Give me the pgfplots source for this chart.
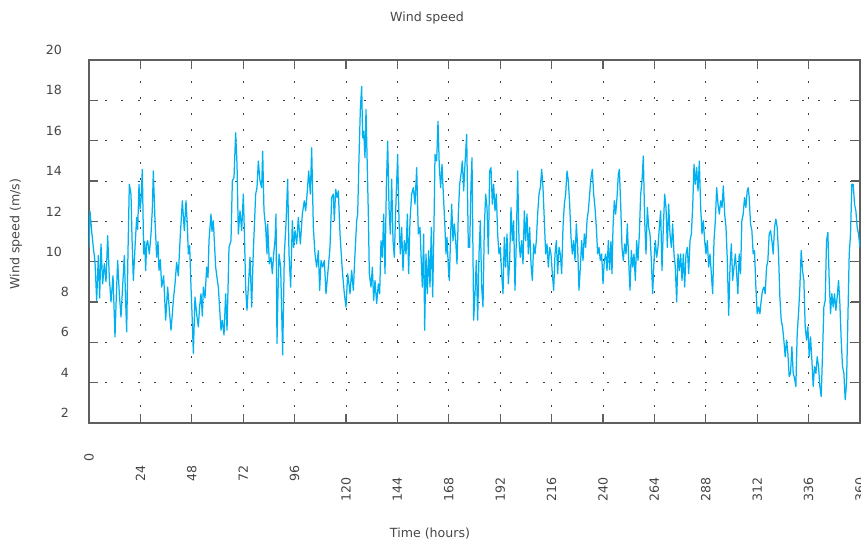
\documentclass[border=0pt]{standalone}
\usepackage{pgfplots}
\pgfplotsset{compat=1.18}
\usepackage{fontspec}
\setmainfont{DejaVu Sans}
\definecolor{wind}{RGB}{0,176,240}
\definecolor{frame}{RGB}{95,95,95}
\definecolor{txt}{RGB}{70,70,70}

\begin{document}
\fontsize{12.6bp}{15bp}\selectfont
\begin{tikzpicture}
\useasboundingbox (0,0) rectangle (861bp,545bp);
\begin{axis}[
  at={(89bp,122bp)}, anchor=south west,
  width=771bp, height=363bp, scale only axis,
  xmin=0, xmax=360, ymin=2, ymax=20,
  xtick={0,24,...,360},
  xticklabels={0,24\hspace*{12bp},48\hspace*{12bp},72\hspace*{12bp},96\hspace*{12bp},
    120\hspace*{24bp},144\hspace*{24bp},168\hspace*{24bp},192\hspace*{24bp},216\hspace*{24bp},
    240\hspace*{24bp},264\hspace*{24bp},288\hspace*{24bp},312\hspace*{24bp},336\hspace*{24bp},360\hspace*{24bp}},
  ytick={2,4,...,20},
  yticklabels={2,4,6,8,10\hspace*{7bp},12\hspace*{7bp},14\hspace*{7bp},16\hspace*{7bp},18\hspace*{7bp},20\hspace*{7bp}},
  xticklabel style={rotate=90, anchor=east, inner sep=0pt, text=txt},
  xticklabel shift=30bp,
  yticklabel style={anchor=east, inner sep=0pt, text=txt, yshift=10bp},
  yticklabel shift=20bp,
  grid=major,
  major grid style={draw=black!75, line width=0.8bp, dash pattern=on 2bp off 14.2bp},
  axis line style={frame, line width=1.1bp},
  major tick style={frame, line width=1.1bp},
  major tick length=9bp,
  tick align=inside,
]
\addplot[wind, line width=1.25bp, line join=round] coordinates {
(0,10.7)(0.47,12.5)(1.25,11.5)(2.02,10.71)(2.8,10.0)(3.58,8.08)(4.36,10.3)(4.98,8.2)(5.6,10.88)(6.38,8.9)(7.16,9.9)(7.94,9.0)(8.72,11.29)(9.49,9.2)(10.27,8.0)(11.21,9.3)(12.14,6.27)(12.76,8.3)(13.39,10.06)(14.16,8.4)(14.94,7.26)(15.72,8.8)(16.5,10.3)(17.12,8.0)(17.59,6.52)(18.21,10.5)(18.83,13.84)(19.61,13.35)(20.08,11.2)(20.7,9.07)(21.48,10.71)(22.26,12.19)(22.72,11.6)(23.35,13.84)(23.81,12.6)(24.28,13.02)(24.9,14.58)(25.53,10.38)(25.99,11.0)(26.46,9.56)(26.93,10.9)(27.39,11.04)(28.17,10.38)(28.95,11.37)(29.57,12.6)(30.04,14.5)(30.82,12.03)(31.6,10.22)(32.22,11.0)(32.68,9.56)(33.31,10.1)(33.93,8.74)(34.86,9.3)(35.8,7.1)(36.73,8.74)(37.51,7.6)(38.29,6.6)(38.91,7.4)(39.38,8.08)(40.16,8.9)(40.93,9.97)(41.71,9.3)(42.49,11.04)(43.58,13.02)(44.51,11.54)(45.29,13.02)(45.91,11.8)(46.38,10.38)(47.0,10.8)(47.63,8.74)(48.25,7.0)(48.72,5.45)(49.49,8.25)(50.27,7.4)(51.05,6.77)(51.67,7.8)(52.3,8.41)(52.92,7.3)(53.39,8.74)(54.16,8.2)(54.94,9.73)(55.56,9.2)(56.03,11.04)(56.96,12.36)(57.43,11.5)(58.05,12.03)(59.14,9.73)(59.77,9.2)(60.39,8.74)
(61.63,6.6)(62.26,7.1)(63.04,6.36)(63.81,8.41)(64.44,6.6)(65.37,10.71)(66.3,11.04)(66.93,14.0)(67.7,14.17)(68.48,16.39)(69.11,14.83)(69.73,11.37)(70.51,12.52)(71.29,11.54)(72.06,13.35)(72.53,11.54)(73.15,8.74)(73.77,7.59)(74.4,8.74)(75.18,10.22)(75.95,7.75)(76.73,10.55)(77.2,11.7)(77.82,13.35)(78.44,13.67)(79.07,14.99)(79.84,14.0)(80.62,13.67)(81.09,15.48)(81.71,12.52)(82.49,11.7)(83.11,10.38)(83.42,11.87)(84.2,9.89)(84.98,10.22)(85.6,9.4)(86.23,10.38)(86.85,11.04)(87.32,12.36)(87.78,5.94)(88.25,8.5)(88.72,10.38)(89.49,9.73)(90.43,5.37)(91.21,10.38)(91.98,11.87)(92.76,14.09)(93.39,10.38)(94.16,8.74)(94.94,12.03)(95.56,10.71)(96.19,11.54)(96.97,10.88)(97.74,12.19)(98.68,10.88)(99.61,12.36)(100.54,13.02)(101.17,12.52)(101.95,13.51)(102.57,14.5)(103.35,13.35)(103.97,15.65)(104.75,11.7)(105.53,10.38)(106.3,9.73)(107.08,10.55)(107.7,8.58)(108.33,10.06)(109.11,9.73)(109.88,10.06)(110.66,8.41)(111.75,9.73)(112.53,10.71)(113.31,13.18)(114.09,13.35)(114.55,12.03)(115.18,13.59)(115.8,13.18)(116.42,13.51)(117.2,11.37)(118.29,9.56)(119.22,8.41)(120.0,7.75)(120.78,9.4)(121.56,8.74)
(121.87,8.41)(122.65,9.56)(123.42,8.58)(124.2,10.38)(124.98,12.03)(125.45,12.36)(126.07,15.15)(126.69,17.54)(127.32,18.69)(127.78,16.14)(128.25,16.47)(128.87,15.15)(129.34,17.54)(129.81,15.32)(130.43,12.36)(130.89,9.4)(131.67,8.74)(132.3,9.73)(132.92,8.08)(133.54,9.07)(134.32,7.92)(135.1,8.9)(135.72,8.41)(136.34,11.04)(136.97,10.22)(137.59,12.36)(138.21,9.4)(138.83,13.67)(139.46,15.98)(140.08,12.69)(140.7,11.37)(141.32,14.09)(141.95,11.04)(142.57,10.22)(143.19,12.52)(144.12,15.32)(144.75,12.03)(145.37,10.38)(145.99,11.7)(146.61,9.56)(147.24,11.04)(148.02,10.38)(148.64,12.36)(149.26,9.4)(149.88,12.03)(150.66,13.35)(151.44,13.67)(152.22,12.85)(153.0,14.66)(153.77,11.37)(154.55,11.7)(155.02,10.38)(155.64,8.74)(156.26,11.37)(156.73,6.6)(157.35,10.38)(157.98,8.41)(158.6,10.55)(159.22,8.74)(159.84,11.7)(160.47,8.25)(161.09,11.87)(161.56,15.32)(162.33,14.99)(162.96,16.96)(163.58,14.66)(164.2,13.67)(164.82,14.83)(165.45,13.35)(166.07,12.03)(166.69,10.38)(167.16,11.21)(167.78,9.73)(168.25,9.07)(168.87,11.37)(169.34,12.85)(169.96,11.04)(170.58,11.87)(171.21,11.04)(171.83,9.89)(172.45,12.36)(173.07,13.84)(173.7,14.33)(174.32,14.99)(174.94,13.51)(175.56,14.83)(176.34,16.31)(177.12,10.71)(177.74,10.71)(178.37,13.84)(178.83,15.15)(179.61,7.1)(180.23,8.41)(180.85,10.06)
(181.48,7.1)(182.1,10.38)(182.72,12.03)(183.35,8.74)(183.97,7.75)(184.59,11.7)(185.21,13.35)(185.84,12.69)(186.46,10.38)(187.08,14.5)(187.7,14.66)(188.33,12.85)(188.95,13.84)(189.57,12.52)(190.19,13.35)(190.82,11.37)(191.44,10.38)(192.06,10.71)(192.68,9.4)(193.31,8.41)(193.93,11.21)(194.55,9.73)(195.18,11.37)(195.8,8.9)(196.42,10.06)(197.04,12.69)(197.67,11.04)(198.29,12.03)(198.91,8.58)(199.53,11.04)(200.16,14.5)(200.78,11.04)(201.4,10.22)(202.02,11.04)(202.65,9.89)(203.27,12.52)(203.89,11.04)(204.51,12.36)(205.14,10.38)(205.76,11.7)(206.38,9.89)(207.0,9.07)(207.63,10.88)(208.25,10.38)(208.87,11.04)(209.49,12.36)(210.12,13.35)(210.74,13.67)(211.36,14.58)(211.98,13.67)(212.61,12.03)(213.23,10.38)(213.85,10.88)(214.47,9.73)(215.1,10.71)(215.72,10.38)(216.34,9.4)(216.96,8.58)(217.59,10.38)(218.21,11.04)(218.83,9.4)(219.46,10.71)(220.08,10.38)(220.7,9.4)(221.32,11.7)(221.95,12.85)(222.57,13.35)(223.19,14.5)(223.81,14.0)(224.44,12.85)(225.06,11.21)(225.68,10.38)(226.3,11.04)(226.93,10.06)(227.55,11.87)(228.17,10.71)(228.79,8.58)(229.42,9.73)(230.04,11.04)(230.66,10.06)(231.28,11.37)(231.91,10.71)(232.53,12.03)(233.15,12.52)(233.77,13.35)(234.4,14.17)(235.02,14.58)(235.64,13.35)(236.26,12.69)(236.89,11.7)(237.51,10.38)(238.13,10.71)(238.75,10.06)(239.38,10.38)(240.0,8.9)(240.62,10.06)(241.25,10.38)(241.87,9.56)(242.49,11.04)
(243.1,9.6)(243.7,11.0)(244.2,9.4)(244.67,11.7)(245.29,13.02)(245.91,12.36)(246.54,13.18)(247.16,14.33)(247.63,14.58)(248.25,12.85)(248.87,10.71)(249.49,10.06)(250.12,10.88)(250.74,10.38)(251.36,11.87)(251.98,10.06)(252.61,8.58)(253.23,10.55)(253.85,9.73)(254.47,10.38)(255.1,9.07)(255.72,11.04)(256.34,10.06)(256.97,11.37)(257.59,13.35)(258.21,14.0)(258.83,15.24)(259.46,12.03)(260.08,10.38)(260.7,12.69)(261.32,11.7)(261.95,11.37)(262.57,10.06)(263.19,8.41)(263.81,10.06)(264.44,11.04)(265.06,10.22)(265.68,10.71)(266.3,11.7)(266.93,12.52)(267.55,9.56)(268.17,11.7)(268.79,13.35)(269.42,12.69)(270.04,10.71)(270.66,12.85)(271.28,11.37)(271.91,10.71)(272.53,11.87)(273.15,10.38)(273.77,9.73)(274.4,8.0)(275.02,10.38)(275.64,9.56)(276.26,10.38)(276.89,9.07)(277.51,10.38)(278.13,8.74)(278.75,10.38)(279.38,10.71)(280.0,9.4)(280.62,11.04)(281.25,11.37)(281.87,12.69)(282.49,14.83)(283.11,13.84)(283.74,14.66)(284.36,13.51)(284.98,14.99)(285.6,12.69)(286.23,11.37)(286.85,12.03)(287.47,11.04)(288.09,10.38)(288.72,11.04)(289.34,9.73)(289.96,10.38)(290.58,9.4)(291.21,8.41)(291.83,11.04)(292.45,12.03)(293.07,13.67)(293.7,12.85)(294.32,12.36)(294.94,13.02)(295.56,12.69)(296.19,13.76)(296.81,12.36)(297.43,11.7)(298.05,10.06)(298.68,7.34)(299.3,9.73)(299.92,10.88)(300.54,9.07)(301.17,9.73)(301.79,10.38)(302.41,9.4)
(302.97,8.41)(303.59,10.38)(304.22,9.4)(304.84,12.03)(305.46,12.36)(306.09,13.18)(306.71,12.69)(307.33,13.51)(307.8,13.67)(308.26,13.18)(308.89,11.87)(309.51,11.54)(310.13,10.38)(310.75,10.55)(311.38,8.74)(312.0,7.42)(312.62,7.75)(313.25,7.42)(313.87,8.08)(314.49,8.58)(315.11,8.74)(315.74,8.41)(316.36,9.73)(316.98,10.06)(317.6,11.37)(318.23,11.54)(318.85,11.04)(319.47,10.38)(320.09,11.7)(320.72,12.11)(321.34,11.7)(321.96,10.38)(322.58,8.25)(323.21,7.1)(323.83,6.77)(324.45,6.11)(325.07,5.29)(325.7,6.11)(326.32,5.45)(326.94,4.3)(327.56,4.46)(328.19,5.78)(328.81,4.46)(329.43,4.22)(330.05,3.81)(330.68,6.44)(331.3,7.42)(331.92,8.74)(332.54,10.55)(333.17,9.56)(333.79,9.07)(334.41,6.77)(335.04,6.11)(335.66,6.77)(336.28,5.29)(336.9,6.27)(337.53,5.12)(338.15,3.81)(338.77,4.79)(339.39,4.46)(340.02,5.29)(340.64,4.79)(341.26,3.81)(341.88,3.31)(342.51,5.45)(343.13,7.75)(343.75,8.08)(344.37,11.04)(345.0,11.45)(345.62,9.07)(346.24,7.42)(346.86,8.41)(347.49,7.75)(348.11,8.41)(348.73,7.59)(349.35,8.25)(349.98,9.07)(350.6,7.92)(351.22,6.11)(351.84,4.79)(352.47,4.46)(353.09,3.15)(353.71,3.97)(354.33,7.1)(354.96,10.38)(355.58,11.37)(356.2,13.84)(356.82,13.84)(357.45,12.85)(358.07,12.52)(358.69,11.7)(359.32,11.37)(359.94,10.71)
};
\end{axis}
\node[text=txt] at (427bp,527bp) {Wind speed};
\node[text=txt] at (430bp,11bp) {Time (hours)};
\node[text=txt, rotate=90] at (16bp,311bp) {Wind speed (m/s)};
\end{tikzpicture}
\end{document}
